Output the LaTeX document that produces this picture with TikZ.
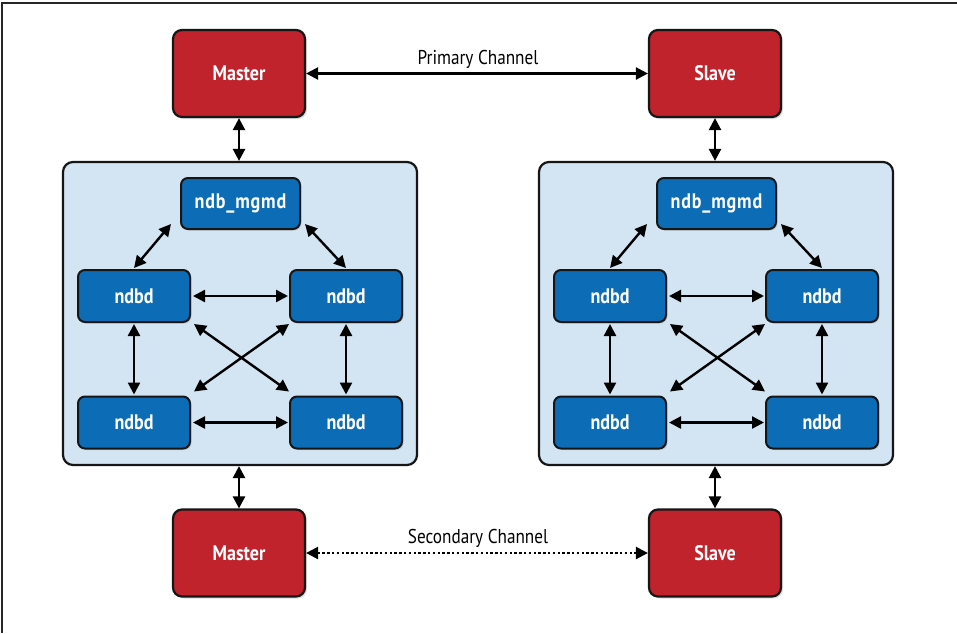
\documentclass[tikz,border=0pt]{standalone}
\usepackage{fontspec}
\setmainfont{PT Sans}[FakeStretch=0.86]
\usetikzlibrary{arrows.meta,shadows}
\definecolor{redfill}{HTML}{C0232B}
\definecolor{bluefill}{HTML}{0C6DB6}
\definecolor{clusterfill}{HTML}{D3E5F2}
\definecolor{edge}{HTML}{161616}
\tikzset{
  redbox/.style={draw=edge, line width=2.2pt, fill=redfill, rounded corners=9pt,
    minimum width=132pt, minimum height=87pt, inner sep=0pt, text=white,
    font=\fontsize{21}{25}\selectfont\bfseries,
    drop shadow={shadow xshift=2pt, shadow yshift=-2pt, opacity=0.25}},
  bluebox/.style={draw=edge, line width=2pt, fill=bluefill, rounded corners=7pt,
    minimum width=112pt, minimum height=52pt, inner sep=0pt, text=white,
    font=\fontsize{21}{25}\selectfont\bfseries,
    drop shadow={shadow xshift=1.5pt, shadow yshift=-1.5pt, opacity=0.25}},
  mgmdbox/.style={bluebox, minimum width=119pt, minimum height=51pt,
    font=\fontsize{21}{25}\selectfont\bfseries\addfontfeature{LetterSpace=4}},
  cluster/.style={draw=edge, line width=2.2pt, fill=clusterfill, rounded corners=10pt,
    minimum width=354pt, minimum height=303pt, inner sep=0pt},
  arr/.style={line width=2.4pt, draw=black, {Triangle[length=12pt,width=12pt]}-{Triangle[length=12pt,width=12pt]}},
  dotarr/.style={arr, dash pattern=on 2.4pt off 2.4pt},
  chan/.style={font=\fontsize{20}{24}\selectfont, inner sep=0pt}
}
\begin{document}
\begin{tikzpicture}[x=1pt,y=-1pt]
\useasboundingbox (0,0) rectangle (957,633);
\draw[line width=2.4pt, draw=black!85] (2,633) -- (2,3) -- (957,3);

% clusters
\node[cluster] (cl) at (240,313.5) {};
\node[cluster] (cr) at (716,313.5) {};

% red boxes
\node[redbox] (m1) at (239,73.5) {Master};
\node[redbox] (s1) at (715,73.5) {Slave};
\node[redbox] (m2) at (239,553) {Master};
\node[redbox] (s2) at (715,553) {Slave};

% channels
\draw[arr] (m1.east) -- (s1.west);
\node[chan] (pc) at (478,59) {Primary Channel};
\draw[dotarr] (m2.east) -- (s2.west);
\node[chan] (sc) at (478,538) {Secondary Channel};

% vertical links
\draw[arr] (m1.south) -- (m1.south |- cl.north);
\draw[arr] (s1.south) -- (s1.south |- cr.north);
\draw[arr] (m2.north |- cl.south) -- (m2.north);
\draw[arr] (s2.north |- cr.south) -- (s2.north);

% left cluster nodes
\node[mgmdbox] (lg) at (240.5,203.5) {ndb\_mgmd};
\node[bluebox] (la) at (134,296) {ndbd};
\node[bluebox] (lb) at (346,296) {ndbd};
\node[bluebox] (lc) at (134,422.5) {ndbd};
\node[bluebox] (ld) at (346,422.5) {ndbd};

% right cluster nodes
\node[mgmdbox] (rg) at (716.5,203.5) {ndb\_mgmd};
\node[bluebox] (ra) at (610,296) {ndbd};
\node[bluebox] (rb) at (822,296) {ndbd};
\node[bluebox] (rc) at (610,422.5) {ndbd};
\node[bluebox] (rd) at (822,422.5) {ndbd};

\foreach \g/\a/\b/\c/\d in {lg/la/lb/lc/ld, rg/ra/rb/rc/rd}{
  \draw[arr] ([xshift=-9pt,yshift=6pt]\g.south west) -- ([yshift=1pt]\a.north);
  \draw[arr] ([xshift=4pt,yshift=6pt]\g.south east) -- ([yshift=1pt]\b.north);
  \draw[arr] ([xshift=2pt]\a.east) -- ([xshift=-1pt]\b.west);
  \draw[arr] ([xshift=2pt]\c.east) -- ([xshift=-1pt]\d.west);
  \draw[arr] ([yshift=-1pt]\a.south) -- ([yshift=1pt]\c.north);
  \draw[arr] ([yshift=-1pt]\b.south) -- ([yshift=1pt]\d.north);
  \draw[arr] ([xshift=3pt,yshift=-1pt]\a.south east) -- ([xshift=0pt,yshift=4pt]\d.north west);
  \draw[arr] ([xshift=0pt,yshift=-1pt]\b.south west) -- ([xshift=3pt,yshift=4pt]\c.north east);
}
\end{tikzpicture}
\end{document}
